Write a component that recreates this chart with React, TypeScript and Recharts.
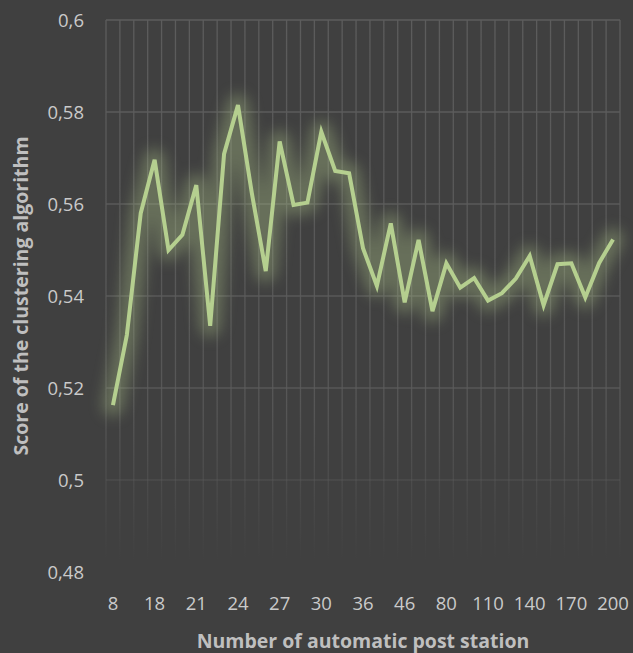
import React from 'react';
import { LineChart, Line, XAxis, YAxis, CartesianGrid } from 'recharts';

const categories: string[] = ['8','10','15','18','19','20','21','22','23','24','25','26','27','28','29','30','32','34','36','39','42','46','50','60','80','90','100','110','120','130','140','150','160','170','180','190','200'];
const scores: number[] = [0.5163,0.5315,0.558,0.5696,0.55,0.5533,0.5641,0.5335,0.5709,0.5815,0.5623,0.5454,0.5736,0.5598,0.5603,0.5757,0.5672,0.5667,0.5504,0.5422,0.5558,0.5386,0.5522,0.5367,0.5471,0.5418,0.5439,0.539,0.5406,0.5438,0.5487,0.538,0.5469,0.5471,0.5397,0.5472,0.5523];
const yTicks: number[] = [0.48, 0.5, 0.52, 0.54, 0.56, 0.58, 0.6];

const data = categories.map((c, i) => ({ station: c, score: scores[i] }));

const FONT = '"Open Sans", sans-serif';
const BG = '#404040';
const LINE = '#b5cf8f';

const fmtY = (v: number) => String(parseFloat(v.toFixed(2))).replace('.', ',');

const verticalGen = (props: any) => {
  const n = categories.length;
  const o = props?.offset;
  if (o && typeof o.left === 'number' && typeof o.width === 'number') {
    const w = o.width / n;
    return Array.from({ length: n + 1 }, (_, i) => o.left + i * w);
  }
  const width = props?.width ?? 633;
  const w = (width - 106 - 13) / n;
  return Array.from({ length: n + 1 }, (_, i) => 106 + i * w);
};

const YTitle = (props: any) => {
  const vb = props.viewBox || { x: 0, y: 20, width: 106, height: 552 };
  const cx = vb.x + 20;
  const cy = vb.y + vb.height / 2;
  return (
    <text x={cx} y={cy} transform={`rotate(-90 ${cx} ${cy})`} textAnchor="middle" dominantBaseline="central"
      fill="#bfbfbf" fontFamily={FONT} fontWeight={700} fontSize={19.5}>
      Score of the clustering algorithm
    </text>
  );
};

const XTitle = (props: any) => {
  const vb = props.viewBox || { x: 106, y: 572, width: 514, height: 81 };
  const cx = vb.x + vb.width / 2;
  const cy = vb.y + 68;
  return (
    <text x={cx} y={cy} textAnchor="middle" dominantBaseline="central"
      fill="#bfbfbf" fontFamily={FONT} fontWeight={700} fontSize={19.5}>
      Number of automatic post station
    </text>
  );
};

export default function App() {
  return (
    <div style={{ position: 'absolute', left: 0, top: 0, width: 633, height: 653, background: BG }}>
      <style>{`.glow-line path { filter: blur(7px); }`}</style>
      <LineChart width={633} height={653} data={data} margin={{ top: 20, right: 13, bottom: 0, left: 0 }}>
        <defs>
          <linearGradient id="gridFade" gradientUnits="userSpaceOnUse" x1="0" y1="20" x2="0" y2="572">
            <stop offset="0" stopColor="#5c5c5c" stopOpacity={1} />
            <stop offset="0.7" stopColor="#5c5c5c" stopOpacity={0.8} />
            <stop offset="0.98" stopColor="#5c5c5c" stopOpacity={0} />
            <stop offset="1" stopColor="#5c5c5c" stopOpacity={0} />
          </linearGradient>
        </defs>
        <CartesianGrid stroke="url(#gridFade)" strokeWidth={1.3} verticalCoordinatesGenerator={verticalGen} />
        <XAxis dataKey="station" type="category" scale="band" interval={2} axisLine={false} tickLine={false} tickSize={0} tickMargin={25}
          height={81} tick={{ fill: '#cacaca', fontFamily: FONT, fontSize: 18.5 }} label={<XTitle />} />
        <YAxis domain={[0.48, 0.6]} ticks={yTicks} type="number" axisLine={false} tickLine={false} tickSize={0} tickMargin={22}
          width={106} tickFormatter={fmtY} tick={{ fill: '#cacaca', fontFamily: FONT, fontSize: 18.5 }} label={<YTitle />} />
        <Line className="glow-line" dataKey="score" type="linear" stroke={LINE} strokeOpacity={0.33} strokeWidth={22}
          strokeLinejoin="round" strokeLinecap="round" dot={false} activeDot={false} isAnimationActive={false} />
        <Line dataKey="score" type="linear" stroke={LINE} strokeWidth={4} strokeLinejoin="miter" dot={false}
          activeDot={false} isAnimationActive={false} />
      </LineChart>
    </div>
  );
}
